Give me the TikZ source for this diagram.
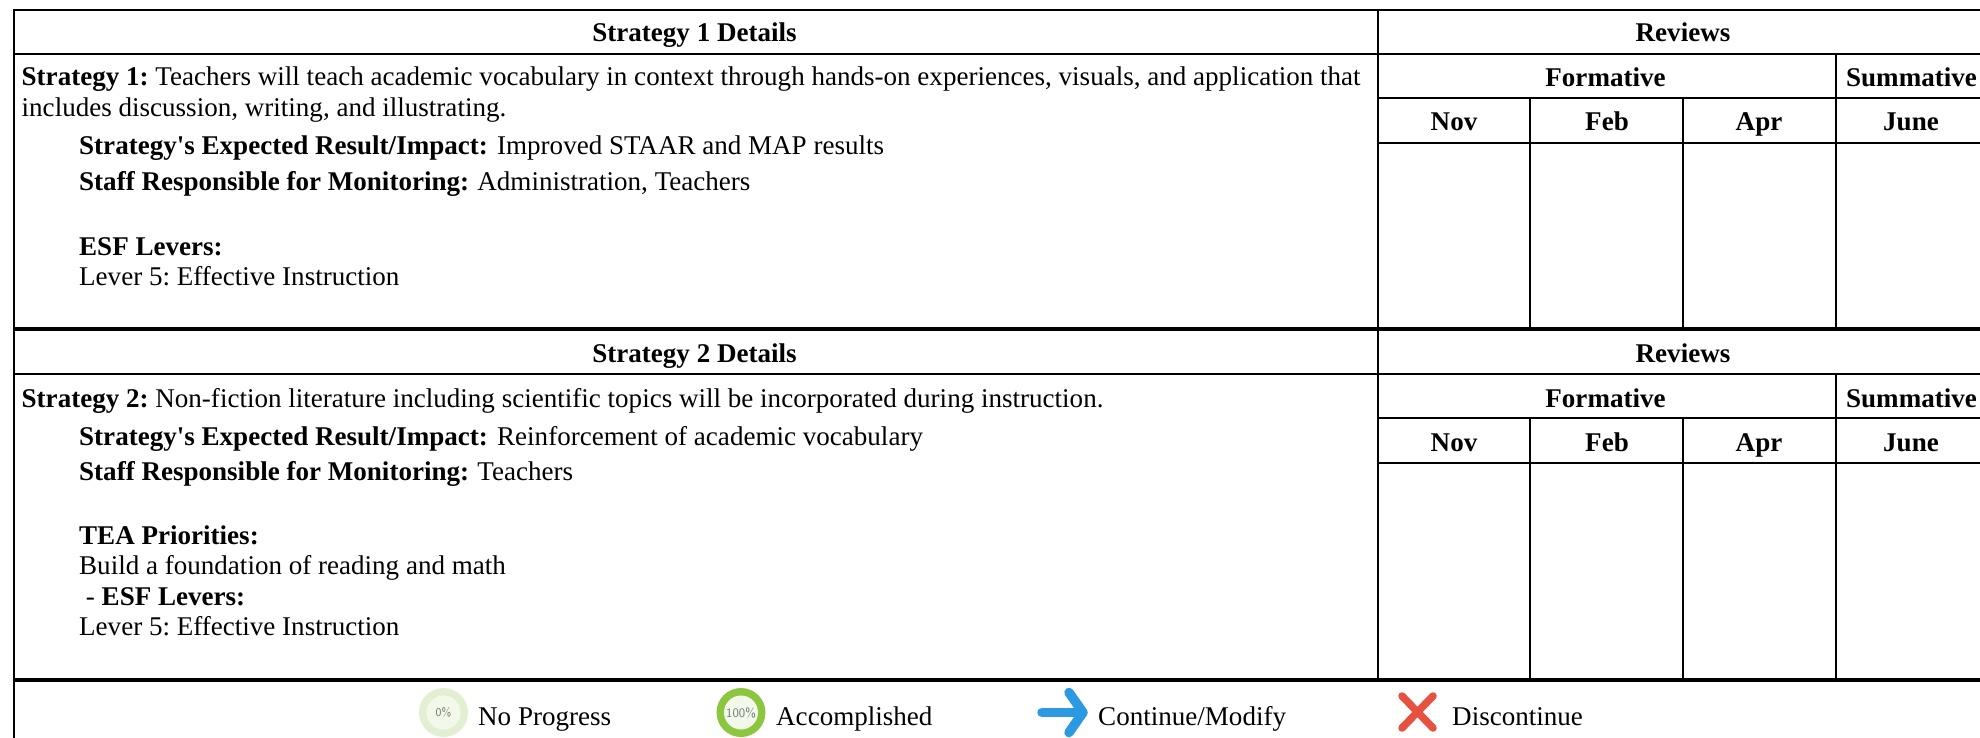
\documentclass[tikz,border=0pt]{standalone}
\usepackage{fontspec}
\setmainfont{Liberation Serif}[Ligatures=TeXOff]
\frenchspacing
\definecolor{palegr}{HTML}{E3EFD3}
\definecolor{paleinner}{HTML}{F2F8EA}
\definecolor{leafgr}{HTML}{8CC63F}
\definecolor{arrowbl}{HTML}{2B9AE3}
\definecolor{crossred}{HTML}{E8503F}
\definecolor{icontxt}{HTML}{777777}
\tikzset{x=1pt,y=-1pt,
 gridline/.style={line width=2.8pt,black},
 thick line/.style={line width=3.8pt,black},
 txt/.style={font=\fontsize{27.05}{30}\selectfont,inner sep=0pt,anchor=base west,text=black},
 ctxt/.style={font=\fontsize{27.05}{30}\selectfont\bfseries,inner sep=0pt,anchor=base,text=black},
 icontext/.style={font=\sffamily\fontsize{#1}{14}\selectfont,text=icontxt,inner sep=0pt}}
\begin{document}
\begin{tikzpicture}
\useasboundingbox (0,0) rectangle (1980,738);
\fill[white] (0,0) rectangle (1980,738);
\begin{scope}
\clip (0,0) rectangle (1980,738);
\draw[gridline] (12.6,10) -- (1990,10);
\draw[gridline] (14,10) -- (14,738);
\draw[gridline] (14,54) -- (1990,54);
\draw[gridline] (1378,10) -- (1378,680);
\draw[gridline] (1378,98) -- (1990,98);
\draw[gridline] (1378,143) -- (1990,143);
\draw[gridline] (1836,54) -- (1836,329);
\draw[gridline] (1530,98) -- (1530,329);
\draw[gridline] (1683,98) -- (1683,329);
\draw[thick line] (14,329) -- (1990,329);
\draw[gridline] (14,374) -- (1990,374);
\draw[gridline] (1378,418) -- (1990,418);
\draw[gridline] (1378,463) -- (1990,463);
\draw[gridline] (1836,374) -- (1836,680);
\draw[gridline] (1530,418) -- (1530,680);
\draw[gridline] (1683,418) -- (1683,680);
\draw[thick line] (14,680) -- (1990,680);
\node[ctxt] (h1) at (694.5,42) {Strategy 1 Details};
\node[ctxt] (r1) at (1683,42) {Reviews};
\node[ctxt] (f1) at (1605.5,87) {Formative};
\node[ctxt] (s1) at (1911.5,87) {Summative};
\node[ctxt] (n1) at (1454,131) {Nov};
\node[ctxt] (b1) at (1607,131) {Feb};
\node[ctxt] (a1) at (1759,131) {Apr};
\node[ctxt] (j1) at (1911,131) {June};
\node[txt] (t1) at (21.5,86) {\textbf{Strategy 1:} Teachers will teach academic vocabulary in context through hands-on experiences, visuals, and application that};
\node[txt] (t2) at (21.5,117) {includes discussion, writing, and illustrating.};
\node[txt] (t3) at (79,155) {\textbf{Strategy's Expected Result/Impact:}\hspace{2.5pt} Improved STAAR and MAP results};
\node[txt] (t4) at (79,191) {\textbf{Staff Responsible for Monitoring:}\hspace{1.5pt} Administration, Teachers};
\node[txt] (t5) at (79,255) {\textbf{ESF Levers:}};
\node[txt] (t6) at (79,285) {Lever 5: Effective Instruction};
\node[ctxt] (h2) at (694.5,362) {Strategy 2 Details};
\node[ctxt] (r2) at (1683,362) {Reviews};
\node[ctxt] (f2) at (1605.5,407) {Formative};
\node[ctxt] (s2) at (1911.5,407) {Summative};
\node[ctxt] (n2) at (1454,451) {Nov};
\node[ctxt] (b2) at (1607,451) {Feb};
\node[ctxt] (a2) at (1759,451) {Apr};
\node[ctxt] (j2) at (1911,451) {June};
\node[txt] (u1) at (21.5,407) {\textbf{Strategy 2:} Non-fiction literature including scientific topics will be incorporated during instruction.};
\node[txt] (u3) at (79,445) {\textbf{Strategy's Expected Result/Impact:}\hspace{2.5pt} Reinforcement of academic vocabulary};
\node[txt] (u4) at (79,480) {\textbf{Staff Responsible for Monitoring:}\hspace{1.5pt} Teachers};
\node[txt] (u5) at (79,544) {\textbf{TEA Priorities:}};
\node[txt] (u6) at (79,574) {Build a foundation of reading and math};
\node[txt] (u7) at (79,605) {\ - \textbf{ESF Levers:}};
\node[txt] (u8) at (79,635) {Lever 5: Effective Instruction};
% legend
\fill[palegr] (443.5,712.5) circle (24.5);
\fill[paleinner] (443.5,712.5) circle (17);
\node[icontext=12] (i0) at (443.5,712.5) {0\%};
\node[txt] (l0) at (478,725) {No Progress};
\fill[leafgr] (741,712.5) circle (24.5);
\fill[paleinner] (741,712.5) circle (17);
\node[icontext=13] (i1) at (741,712.5) {100\%};
\node[txt] (l1) at (776,725) {Accomplished};
\draw[arrowbl,line width=9.5pt,line cap=round,line join=round] (1042,712.5) -- (1078,712.5);
\draw[arrowbl,line width=9.5pt,line cap=round,line join=round] (1069,692.5) -- (1083,712.5) -- (1069,732.5);
\node[txt] (l2) at (1098,725) {Continue/Modify};
\draw[crossred,line width=7.5pt,line cap=round] (1402,696) -- (1433,728);
\draw[crossred,line width=7.5pt,line cap=round] (1433,696) -- (1402,728);
\node[txt] (l3) at (1452,725) {Discontinue};
\end{scope}
\end{tikzpicture}
\end{document}
